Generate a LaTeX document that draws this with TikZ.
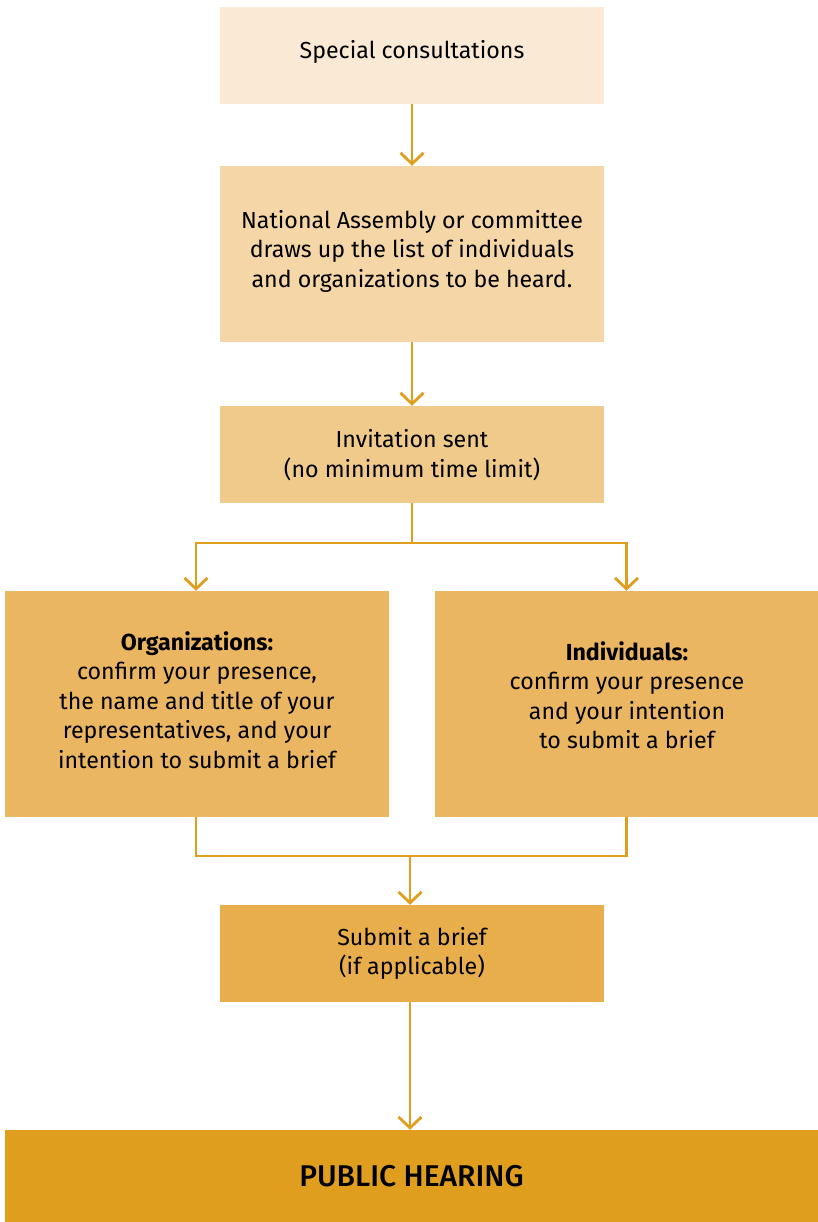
\documentclass[tikz,border=0pt]{standalone}
\usepackage{fontspec}
\setmainfont{Fira Sans}
\newfontfamily\medfont{Fira Sans}[UprightFont=* Medium]
\usetikzlibrary{arrows.meta}
\definecolor{cA}{HTML}{FAE9D4}
\definecolor{cB}{HTML}{F5D6A6}
\definecolor{cC}{HTML}{F0CA8A}
\definecolor{cD}{HTML}{EBB661}
\definecolor{cE}{HTML}{E8AE4C}
\definecolor{cF}{HTML}{E09E1E}
\tikzset{
  box/.style={rectangle, inner sep=0pt, align=center, font=\fontsize{23.2}{29.5}\selectfont, text=black},
  txt/.style={inner sep=0pt, align=center, font=\fontsize{23.2}{29.5}\selectfont, text=black},
  conn/.style={draw=cF, line width=2.8pt, -{Straight Barb[length=11pt,width=23pt,line width=2.8pt]}},
  plain/.style={draw=cF, line width=2.8pt}
}
\begin{document}
\begin{tikzpicture}[x=1pt,y=-1pt]
\useasboundingbox (0,0) rectangle (818,1222);
\node[box, fill=cA, minimum width=384pt, minimum height=97pt] (b1) at (412,55.5) {};
\node[txt] (b1t) at (412,52) {Special consultations};
\node[box, fill=cB, minimum width=384pt, minimum height=176pt] (b2) at (412,254) {};
\node[txt] (b2t) at (412,251) {National Assembly or committee\\draws up the list of individuals\\and organizations to be heard.};
\node[box, fill=cC, minimum width=384pt, minimum height=97pt] (b3) at (412,454.5) {};
\node[txt] (b3t) at (412,455) {Invitation sent\\(no minimum time limit)};
\node[box, fill=cD, minimum width=384pt, minimum height=226pt] (b4) at (197,704) {};
\node[txt] (b4t) at (197,700) {\textbf{Organizations:}\\confirm your presence,\\the name and title of your\\representatives, and your\\intention to submit a brief};
\node[box, fill=cD, minimum width=383pt, minimum height=226pt] (b5) at (626.5,704) {};
\node[txt] (b5t) at (627,695) {\textbf{Individuals:}\\confirm your presence\\and your intention\\to submit a brief};
\node[box, fill=cE, minimum width=384pt, minimum height=97pt] (b6) at (412,953.5) {Submit a brief\\(if applicable)};
\node[box, fill=cF, minimum width=813pt, minimum height=92pt, font=\fontsize{30}{34}\medfont] (b7) at (411.5,1176) {PUBLIC HEARING};
\coordinate (s) at (412,543);
\coordinate (m) at (410,856);
\draw[conn] (b1.south) -- (b2.north);
\draw[conn] (b2.south) -- (b3.north);
\draw[plain] (b3.south) -- (s);
\draw[conn] (s) -| ([xshift=-1pt]b4.north);
\draw[conn] (s) -| (b5.north);
\draw[plain] ([xshift=-1pt]b4.south) |- (m);
\draw[plain] (b5.south) |- (m);
\draw[conn] (m) -- (m |- b6.north);
\draw[conn] ([xshift=-2pt]b6.south) -- ([xshift=-2pt]b6.south |- b7.north);
\end{tikzpicture}
\end{document}
